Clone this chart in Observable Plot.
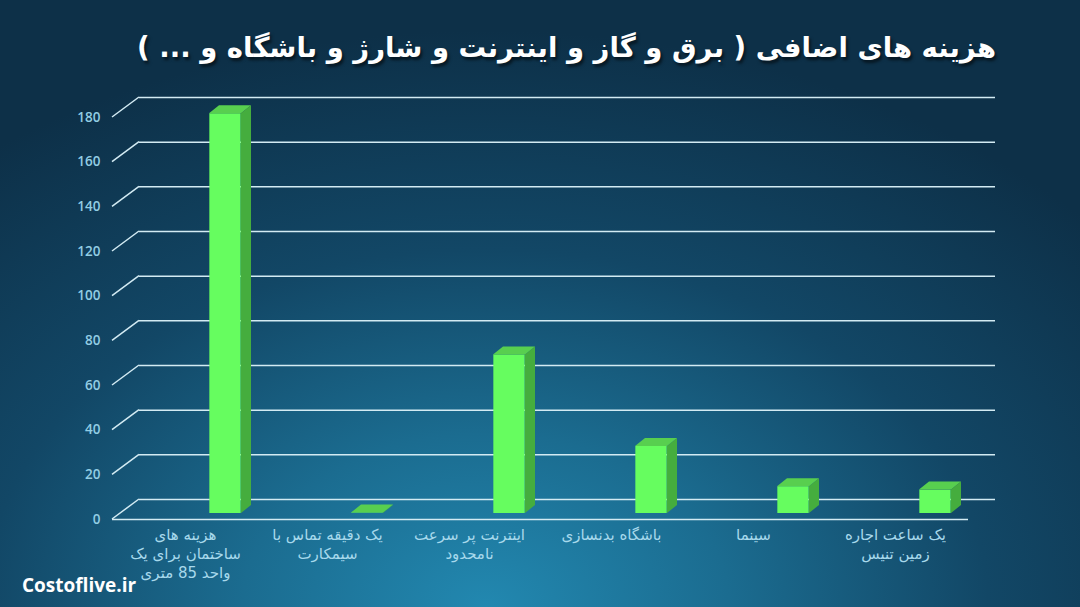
<!DOCTYPE html>
<html>
<head>
<meta charset="utf-8">
<script src="https://cdn.jsdelivr.net/npm/d3@7"></script>
<script src="https://cdn.jsdelivr.net/npm/@observablehq/plot@0.6"></script>
<style>
  html, body { margin: 0; padding: 0; }
  body {
    width: 1080px; height: 607px; overflow: hidden; position: relative;
    background: radial-gradient(ellipse 75% 95% at 45% 100%, #2288b0 0%, #1b6c90 30%, #124766 62%, #0d3048 100%);
  }
  #title {
    position: relative; height: 90px; width: 1080px;
  }
  #title div {
    position: absolute; right: 84px; top: 31px;
    direction: rtl; color: #ffffff;
    font-family: "DejaVu Sans", sans-serif; font-weight: bold; font-size: 27.5px;
    text-shadow: 2px 3px 3px rgba(0,0,0,0.55);
    white-space: nowrap;
  }
  #chart svg { display: block; background: transparent; }
  #caption {
    position: absolute; left: 22px; top: 572px;
    font-family: "Open Sans", sans-serif; font-weight: 700; font-size: 19px; color: #ffffff;
  }
</style>
</head>
<body>
<div id="title"><div>هزینه های اضافی ( برق و گاز و اینترنت و شارژ و باشگاه و ... )</div></div>
<div id="chart"></div>
<div id="caption">Costoflive.ir</div>
<script>
const categories = [
  "هزینه های\nساختمان برای یک\nواحد 85 متری",
  "یک دقیقه تماس با\nسیمکارت",
  "اینترنت پر سرعت\nنامحدود",
  "باشگاه بدنسازی",
  "سینما",
  "یک ساعت اجاره\nزمین تنیس"
];
const values = [179, 0.2, 71, 30, 12, 10.5];
const yTicks = [0, 20, 40, 60, 80, 100, 120, 140, 160, 180];

const data = categories.map((name, i) => ({name, value: values[i]}));

// 3D geometry (pixels)
const DEPTH_X = 27, DEPTH_Y = -20;   // floor/back-wall depth
const BAR_DY = -6;                    // bar sits slightly behind front edge
const BAR_OFF = 40, BAR_HW = 16;      // bar center offset from band center, half width
const SIDE_X = 10, SIDE_Y = -8;       // bar depth

const gridColor = "#d3ebf3";

function slantTicks(index, scales) {
  const g = d3.create("svg:g");
  const x0 = scales.x.range()[0];
  for (const t of yTicks) {
    const yy = scales.y(t);
    g.append("line")
      .attr("x1", x0).attr("y1", yy)
      .attr("x2", x0 + DEPTH_X).attr("y2", yy + DEPTH_Y)
      .attr("stroke", gridColor).attr("stroke-width", 1.5);
  }
  return g.node();
}

function barFaces(index, scales) {
  const g = d3.create("svg:g");
  const bw = scales.x.bandwidth();
  for (const d of data) {
    const cx = scales.x(d.name) + bw / 2 + BAR_OFF;
    const yb = scales.y(0) + BAR_DY;
    const yt = scales.y(d.value) + BAR_DY;
    const l = cx - BAR_HW, r = cx + BAR_HW;
    g.append("polygon")
      .attr("points", [[r, yb], [r + SIDE_X, yb + SIDE_Y], [r + SIDE_X, yt + SIDE_Y], [r, yt]].map(p => p.join(",")).join(" "))
      .attr("fill", "#45ad3e");
    g.append("polygon")
      .attr("points", [[l, yt], [r, yt], [r + SIDE_X, yt + SIDE_Y], [l + SIDE_X, yt + SIDE_Y]].map(p => p.join(",")).join(" "))
      .attr("fill", "#58cf4f");
  }
  return g.node();
}

const bandHalf = (968 - 112) / 6 / 2;

const chart = Plot.plot({
  width: 1080,
  height: 517,
  marginLeft: 112,
  marginRight: 112,
  marginTop: 27,
  marginBottom: 88,
  style: {
    background: "transparent", overflow: "visible",
    fontSize: "13.5px", fontFamily: "Open Sans, sans-serif", fontWeight: 600, color: "#92cde4"
  },
  x: {domain: categories, padding: 0, axis: null},
  y: {domain: [0, 180], ticks: yTicks, tickSize: 0, tickPadding: 12, label: null, tickFormat: d => String(d)},
  marks: [
    Plot.ruleY(yTicks, {dx: DEPTH_X, dy: DEPTH_Y, stroke: gridColor, strokeWidth: 1.5}),
    slantTicks,
    Plot.ruleY([0], {stroke: gridColor, strokeWidth: 1.5}),
    Plot.barY(data, {
      x: "name", y: "value", fill: "#66fd5f",
      insetLeft: bandHalf + BAR_OFF - BAR_HW,
      insetRight: bandHalf - BAR_OFF - BAR_HW,
      dy: BAR_DY
    }),
    barFaces,
    Plot.text(data, {
      x: "name", text: "name", frameAnchor: "bottom", lineAnchor: "top", dy: 7,
      lineHeight: 1.27, fill: "#a7d9ec", fontSize: 15, fontWeight: 500,
      fontFamily: "DejaVu Sans, sans-serif"
    })
  ]
});

document.getElementById("chart").appendChild(chart);
</script>
</body>
</html>
